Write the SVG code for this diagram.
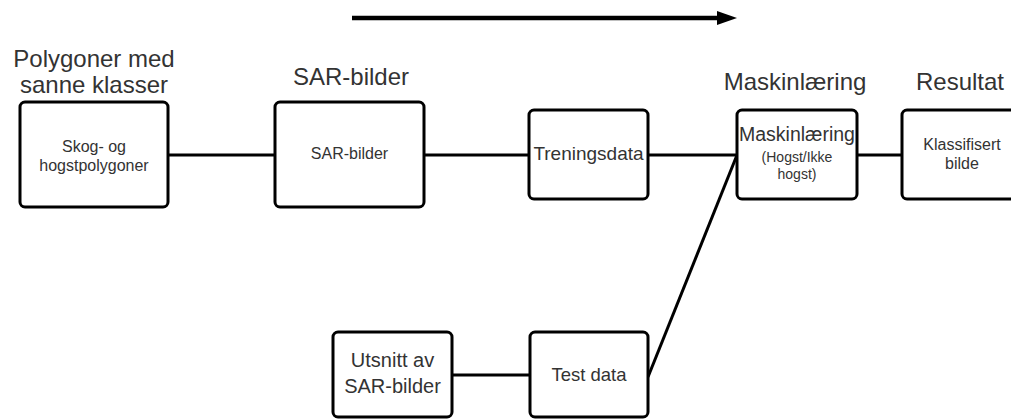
<svg xmlns="http://www.w3.org/2000/svg" width="1011" height="419" viewBox="0 0 1011 419">
<style>
.box{fill:#fff;stroke:#000;stroke-width:3}
.t{font-family:"Liberation Sans",Arial,sans-serif;fill:#333;text-anchor:middle}
.title{font-size:24px}
.con{stroke:#000;stroke-width:3;fill:none}
</style>
<g id="titles">
<text class="t title" x="94" y="67">Polygoner med</text>
<text class="t title" x="94" y="93">sanne klasser</text>
<text class="t title" x="351" y="85">SAR-bilder</text>
<text class="t title" x="795" y="90">Maskinlæring</text>
<text class="t title" x="960" y="90">Resultat</text>
</g>
<g id="flow-arrow">
<line x1="352" y1="18" x2="720" y2="18" stroke="#000" stroke-width="4.5"/>
<polygon points="717,11 737,18 717,25" fill="#000"/>
</g>
<g id="connectors">
<line class="con" x1="168" y1="155" x2="275" y2="155"/>
<line class="con" x1="424" y1="155" x2="529" y2="155"/>
<line class="con" x1="648" y1="155" x2="737" y2="155"/>
<line class="con" x1="648" y1="377" x2="737" y2="155"/>
<line class="con" x1="857" y1="155" x2="902" y2="155"/>
<line class="con" x1="452" y1="375" x2="530" y2="375"/>
</g>
<g id="node-polygoner">
<rect class="box" x="20" y="102" width="148" height="105" rx="5"/>
<text class="t" font-size="16" x="94" y="152">Skog- og</text>
<text class="t" font-size="16" x="94" y="171">hogstpolygoner</text>
</g>
<g id="node-sar">
<rect class="box" x="275" y="102" width="149" height="105" rx="5"/>
<text class="t" font-size="16" x="349.5" y="159">SAR-bilder</text>
</g>
<g id="node-trening">
<rect class="box" x="529" y="110" width="119" height="89" rx="5"/>
<text class="t" font-size="19" x="588.5" y="160">Treningsdata</text>
</g>
<g id="node-maskin">
<rect class="box" x="737" y="110" width="120" height="89" rx="5"/>
<text class="t" font-size="19.5" x="797" y="141">Maskinlæring</text>
<text class="t" font-size="14" x="797" y="162">(Hogst/Ikke</text>
<text class="t" font-size="14" x="797" y="179">hogst)</text>
</g>
<g id="node-resultat">
<rect class="box" x="902" y="110" width="120" height="89" rx="5"/>
<text class="t" font-size="16" x="962" y="150">Klassifisert</text>
<text class="t" font-size="16" x="962" y="169">bilde</text>
</g>
<g id="node-utsnitt">
<rect class="box" x="333" y="332" width="119" height="85" rx="5"/>
<text class="t" font-size="20" x="392.5" y="367">Utsnitt av</text>
<text class="t" font-size="20" x="392.5" y="393">SAR-bilder</text>
</g>
<g id="node-test">
<rect class="box" x="530" y="332" width="118" height="85" rx="5"/>
<text class="t" font-size="18.5" x="589" y="381">Test data</text>
</g>
</svg>
